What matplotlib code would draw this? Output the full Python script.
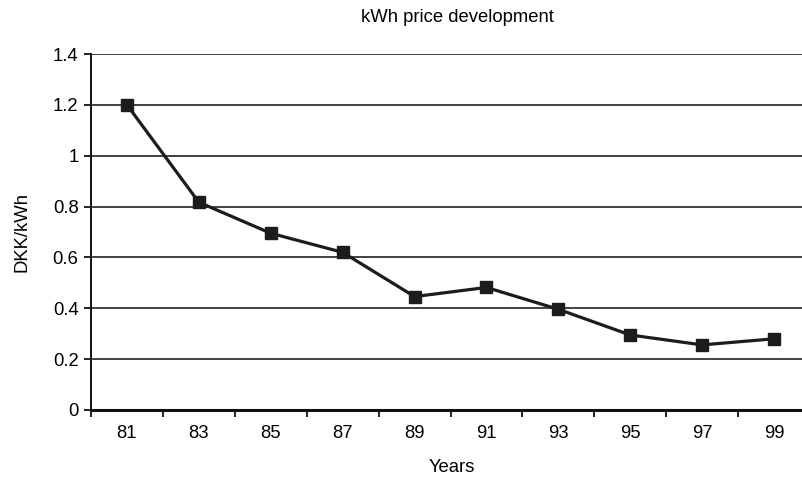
import numpy as np
import matplotlib
matplotlib.use("Agg")
import matplotlib.pyplot as plt
from matplotlib.ticker import FixedLocator

plt.rcParams['font.family'] = ['Liberation Sans', 'DejaVu Sans']

years = ['81', '83', '85', '87', '89', '91', '93', '95', '97', '99']
price = [1.20, 0.817, 0.695, 0.62, 0.446, 0.482, 0.396, 0.295, 0.256, 0.28]
yticks = [0, 0.2, 0.4, 0.6, 0.8, 1.0, 1.2, 1.4]
ylabels = ['0', '0.2', '0.4', '0.6', '0.8', '1', '1.2', '1.4']

W, H = 802, 479
fs = 13.3
fig = plt.figure(figsize=(W / 100, H / 100), dpi=100)
ax = fig.add_axes([91 / W, 1 - 410 / H, 719 / W, 356 / H])

x = np.arange(len(years))
ax.plot(x, price, color='#1c1c1c', lw=2.3, marker='s', ms=9,
        markerfacecolor='#1c1c1c', markeredgecolor='#1c1c1c', zorder=3)

ax.set_xlim(-0.5, len(years) - 0.5)
ax.set_ylim(0, 1.4)
ax.set_yticks(yticks)
ax.set_yticklabels(ylabels)
for y in yticks[1:]:
    ax.axhline(y, color='#333333', lw=1.3, zorder=1)

ax.set_xticks(x)
ax.set_xticklabels(years)
ax.tick_params(axis='x', which='major', length=0, pad=11, labelsize=fs)
ax.xaxis.set_minor_locator(FixedLocator(np.arange(-0.5, len(years), 1.0)))
ax.tick_params(axis='x', which='minor', length=5, width=1.3, direction='out', color='#111111')
ax.tick_params(axis='y', length=5, width=1.3, pad=4, labelsize=fs, color='#111111')

for s in ['top', 'right']:
    ax.spines[s].set_visible(False)
ax.spines['left'].set_linewidth(1.4)
ax.spines['bottom'].set_linewidth(2.2)
ax.spines['left'].set_color('#111111')
ax.spines['bottom'].set_color('#111111')

fig.text(457 / W, 1 - 18 / H, 'kWh price development', ha='center', va='center', fontsize=fs)
fig.text(22 / W, 1 - 232 / H, 'DKK/kWh', ha='center', va='center', rotation=90, fontsize=fs)
fig.text(452 / W, 1 - 468 / H, 'Years', ha='center', va='center', fontsize=fs)

fig.savefig('out.png', dpi=100)
